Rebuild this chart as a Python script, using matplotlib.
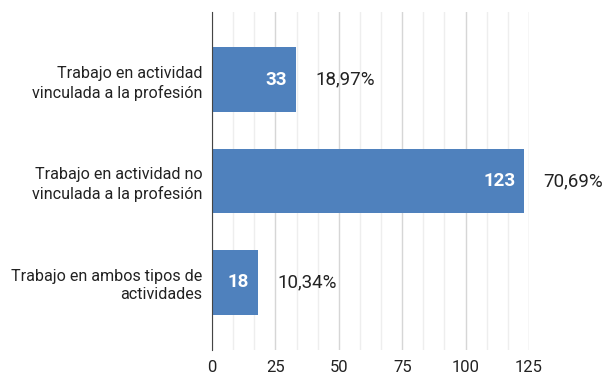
import matplotlib
matplotlib.use("Agg")
import matplotlib.pyplot as plt
from matplotlib.ticker import MultipleLocator

categories = ["Trabajo en actividad\nvinculada a la profesión",
              "Trabajo en actividad no\nvinculada a la profesión",
              "Trabajo en ambos tipos de\nactividades"]
values = [33, 123, 18]
percents = ["18,97%", "70,69%", "10,34%"]
xticks = [0, 25, 50, 75, 100, 125]

plt.rcParams['font.family'] = ['Roboto', 'DejaVu Sans']

fig = plt.figure(figsize=(6.06, 3.76), dpi=100)
ax = fig.add_axes([212/606, 26/376, 317/606, 338/376])

ypos = list(range(len(categories)))
ax.barh(ypos, values, height=0.64, color="#4f81bd", zorder=3)
ax.set_ylim(len(categories) - 1 + 0.67, -0.67)
ax.set_xlim(0, 125)
ax.set_yticks(ypos)
ax.set_yticklabels(categories, fontsize=11.6, color="#222222", linespacing=1.3)
ax.set_xticks(xticks)
ax.set_xticklabels([str(t) for t in xticks], fontsize=12, color="#222222")
ax.xaxis.set_minor_locator(MultipleLocator(25/3))
ax.grid(axis='x', which='major', color="#d6d6d6", linewidth=1, zorder=0)
ax.grid(axis='x', which='minor', color="#eeeeee", linewidth=1, zorder=0)
ax.tick_params(axis='both', which='both', length=0)
ax.tick_params(axis='y', pad=7)
ax.tick_params(axis='x', pad=7)
for s in ['top', 'right', 'bottom']:
    ax.spines[s].set_visible(False)
ax.spines['left'].set_color("#444444")
ax.spines['left'].set_zorder(4)

for y, v, p in zip(ypos, values, percents):
    ax.annotate(str(v), xy=(v, y), xytext=(-6, 0), textcoords='offset points',
                ha='right', va='center', color='white', fontsize=13.5,
                fontweight='bold', zorder=5)
    ax.annotate(p, xy=(v, y), xytext=(14, 0), textcoords='offset points',
                ha='left', va='center', color='#222222', fontsize=13.5, zorder=5)

fig.savefig("out.png", dpi=100)
